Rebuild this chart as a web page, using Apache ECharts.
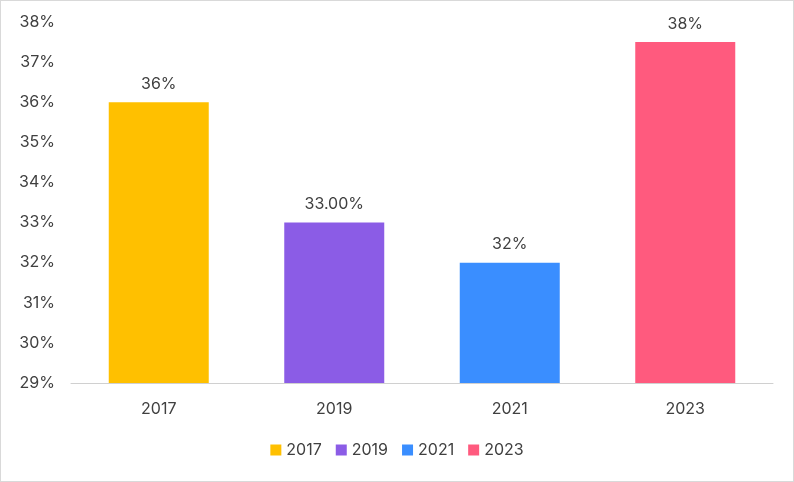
<!DOCTYPE html>
<html><head><meta charset="utf-8">
<script src="https://cdn.jsdelivr.net/npm/echarts@6/dist/echarts.min.js"></script>
<style>html,body{margin:0;padding:0;background:#fff}#c{width:792px;height:480px;border:1px solid #d9d9d9}</style>
</head><body><div id="c"></div>
<script>
const categories = ['2017','2019','2021','2023'];
const values = [36, 33, 32, 37.5];
const labels = ['36%','33.00%','32%','38%'];
const colors = ['#FFC000','#8B5CE6','#3A8EFF','#FF5A7E'];
const yTicks = {min:29, max:38, interval:1};

const chart = echarts.init(document.getElementById('c'));
const series = categories.map((c,i)=>({
  name:c, type:'bar', stack:'s', barWidth:100,
  itemStyle:{color:colors[i]},
  data: categories.map((_,j)=> j===i ? values[i] : '-'),
  label:{show:true, position:'top', distance:10, color:'#404040', fontSize:16,
    fontFamily:'Inter', formatter:()=>labels[i]}
}));
chart.setOption({
  animation:false,
  textStyle:{fontFamily:'Inter'},
  grid:{left:70, right:20, top:21, bottom:98},
  legend:{bottom:18, itemWidth:11, itemHeight:11, itemGap:14, icon:'rect',
    textStyle:{color:'#404040', fontSize:16, fontFamily:'Inter'}, data:categories},
  xAxis:{type:'category', data:categories,
    axisLine:{lineStyle:{color:'#d0d0d0'}}, axisTick:{show:false},
    axisLabel:{color:'#404040', fontSize:16, margin:18}},
  yAxis:{type:'value', min:yTicks.min, max:yTicks.max, interval:yTicks.interval,
    splitLine:{show:false}, axisLine:{show:false}, axisTick:{show:false},
    axisLabel:{color:'#404040', fontSize:16, margin:16, formatter:v=>v+'%'}},
  series
});
</script></body></html>
